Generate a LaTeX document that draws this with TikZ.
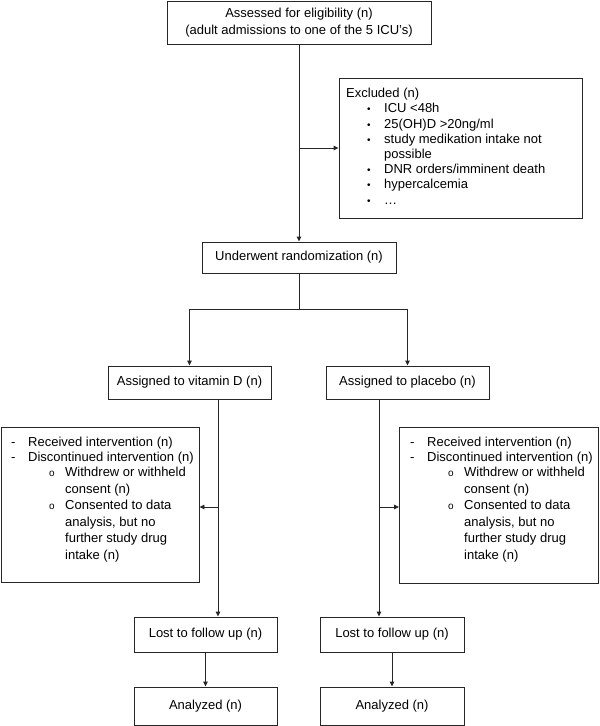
\documentclass[tikz,border=0pt]{standalone}
\usepackage{fontspec}
\setmainfont{Liberation Sans}
\usetikzlibrary{arrows.meta}
\begin{document}
\begin{tikzpicture}[x=1pt,y=-1pt,
 box/.style={draw=black!85, line width=0.9pt, inner sep=0pt, font=\fontsize{13}{16.5}\selectfont, align=center},
 txt/.style={anchor=base west, inner sep=0pt, font=\fontsize{13}{15}\selectfont},
 bul/.style={anchor=base west, inner sep=0pt, font=\fontsize{10}{10}\selectfont},
 con/.style={draw=black!85, line width=0.9pt},
 arr/.style={con, -{Triangle[length=5pt,width=4.5pt]}}]
\useasboundingbox (0,0) rectangle (600,726);

% boxes
\node[box, minimum width=264, minimum height=43] (top) at (299,22.5)
  {Assessed for eligibility (n)\\(adult admissions to one of the 5 ICU's)};
\node[box, minimum width=243, minimum height=140] (excl) at (460.5,148) {};
\node[box, minimum width=194, minimum height=31] (rand) at (299,257.5) {Underwent randomization (n)};
\node[box, minimum width=163, minimum height=33] (vit) at (189.5,382.5) {Assigned to vitamin D (n)};
\node[box, minimum width=163, minimum height=33] (plac) at (407.5,382.5) {Assigned to placebo (n)};
\node[box, minimum width=198, minimum height=155] (lbig) at (100,504.5) {};
\node[box, minimum width=199, minimum height=156] (rbig) at (499,505) {};
\node[box, minimum width=143, minimum height=35] (lostL) at (205.5,634.5) {Lost to follow up (n)};
\node[box, minimum width=144, minimum height=35] (lostR) at (392,634.5) {Lost to follow up (n)};
\node[box, minimum width=143, minimum height=38] (anaL) at (205.5,706) {Analyzed (n)};
\node[box, minimum width=144, minimum height=38] (anaR) at (392,706) {Analyzed (n)};

% excluded text
\node[txt] (e0) at (346,97.6) {Excluded (n)};
\node[bul] (b1) at (367,112.8) {•};
\node[txt] (e1) at (384,112.8) {ICU <48h};
\node[bul] (b2) at (367,128) {•};
\node[txt] (e2) at (384,128) {25(OH)D >20ng/ml};
\node[bul] (b3) at (367,143.2) {•};
\node[txt] (e3) at (384,143.2) {study medikation intake not};
\node[txt] (e3b) at (384,158.4) {possible};
\node[bul] (b4) at (367,173.6) {•};
\node[txt] (e4) at (384,173.6) {DNR orders/imminent death};
\node[bul] (b5) at (367,188.8) {•};
\node[txt] (e5) at (384,188.8) {hypercalcemia};
\node[bul] (b6) at (367,204) {•};
\node[txt] (e6) at (384,204) {…};

% left list
\node[txt] (ld1) at (11,446.5) {-};
\node[txt] (l1) at (28,446.5) {Received intervention (n)};
\node[txt] (ld2) at (11,461.5) {-};
\node[txt] (l2) at (28,461.5) {Discontinued intervention (n)};
\node[bul] (lo1) at (49,476.5) {o};
\node[txt] (l3) at (65,476.5) {Withdrew or withheld};
\node[txt] (l4) at (65,493) {consent (n)};
\node[bul] (lo2) at (49,509.5) {o};
\node[txt] (l5) at (65,509.5) {Consented to data};
\node[txt] (l6) at (65,526) {analysis, but no};
\node[txt] (l7) at (65,542.5) {further study drug};
\node[txt] (l8) at (65,559) {intake (n)};

% right list
\node[txt] (rd1) at (410,446.5) {-};
\node[txt] (r1) at (427,446.5) {Received intervention (n)};
\node[txt] (rd2) at (410,461.5) {-};
\node[txt] (r2) at (427,461.5) {Discontinued intervention (n)};
\node[bul] (ro1) at (448,476.5) {o};
\node[txt] (r3) at (464,476.5) {Withdrew or withheld};
\node[txt] (r4) at (464,493) {consent (n)};
\node[bul] (ro2) at (448,509.5) {o};
\node[txt] (r5) at (464,509.5) {Consented to data};
\node[txt] (r6) at (464,526) {analysis, but no};
\node[txt] (r7) at (464,542.5) {further study drug};
\node[txt] (r8) at (464,559) {intake (n)};

% connectors
\coordinate (exj) at (299,148);
\coordinate (split) at (299,309);
\coordinate (lv) at (218,507);
\coordinate (rv) at (379,507);

\draw[arr] (top.south) -- (rand.north);
\draw[arr] (exj) -- (excl.west);
\draw[con] (rand.south) -- (split);
\draw[arr] (split) -| (vit.north);
\draw[arr] (split) -| (plac.north);
\draw[arr] (vit.south -| lv) -- (lostL.north -| lv);
\draw[arr] (plac.south -| rv) -- (lostR.north -| rv);
\draw[arr] (lv) -- (lv -| lbig.east);
\draw[arr] (rv) -- (rv -| rbig.west);
\draw[arr] (lostL.south) -- (anaL.north);
\draw[arr] (lostR.south) -- (anaR.north);
\end{tikzpicture}
\end{document}
